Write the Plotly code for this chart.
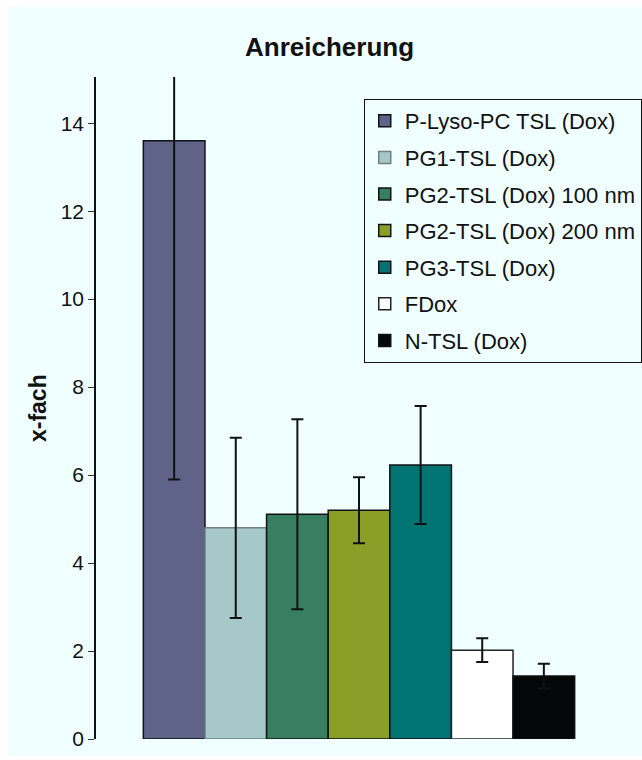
import plotly.graph_objects as go

# Enrichment factors (x-fach) with standard deviations
names = [
    "P-Lyso-PC TSL (Dox)",
    "PG1-TSL (Dox)",
    "PG2-TSL (Dox) 100 nm",
    "PG2-TSL (Dox) 200 nm",
    "PG3-TSL (Dox)",
    "FDox",
    "N-TSL (Dox)",
]
values = [13.6, 4.8, 5.11, 5.2, 6.23, 2.02, 1.43]
errors = [7.7, 2.05, 2.16, 0.75, 1.34, 0.27, 0.28]

fill_colors = ["#5f6388", "#a6c8c8", "#377f60", "#8b9f28", "#007472", "#ffffff", "#050607"]
line_colors = ["#111111", "#6d8181", "#111111", "#111111", "#111111", "#222222", "#111111"]

BG = "#f0ffff"
FONT = "Liberation Sans, Arial, sans-serif"

fig = go.Figure()
for i, (n, v, e) in enumerate(zip(names, values, errors)):
    fig.add_trace(go.Bar(
        x=["Anreicherung"], y=[v], name=n, legendgroup=n,
        marker=dict(color=fill_colors[i], line=dict(color=line_colors[i], width=1.5)),
        error_y=dict(type="data", array=[e], visible=True, color="#111111",
                     thickness=2, width=6),
    ))

fig.update_layout(
    width=642, height=760,
    margin=dict(l=96, r=19.5, t=77, b=21, autoexpand=False),
    paper_bgcolor="white", plot_bgcolor=BG,
    barmode="group", bargap=0.18, bargroupgap=0,
    font=dict(family=FONT, size=21, color="#111111"),
    showlegend=True,
    legend=dict(
        x=(364 - 96) / 526.5, y=(739 - 99) / 662, xanchor="left", yanchor="top",
        bgcolor=BG, bordercolor="#111111", borderwidth=1,
        font=dict(family=FONT, size=22, color="#111111"),
        traceorder="grouped", tracegroupgap=5,
    ),
    shapes=[dict(
        type="rect", xref="paper", yref="paper", layer="below",
        x0=-0.1671, x1=1.04, y0=-0.0257, y1=1.1057,
        fillcolor=BG, line=dict(width=0),
    )],
    annotations=[
        dict(text="<b>Anreicherung</b>", xref="paper", yref="paper",
             x=(330 - 96) / 526.5, y=(739 - 47) / 662, xanchor="center", yanchor="middle",
             showarrow=False, font=dict(family=FONT, size=26, color="#111111")),
        dict(text="<b>x-fach</b>", xref="paper", yref="paper",
             x=(38 - 96) / 526.5, y=(739 - 408) / 662, xanchor="center", yanchor="middle",
             textangle=-90, showarrow=False, font=dict(family=FONT, size=23, color="#111111")),
    ],
)

fig.update_xaxes(showticklabels=False, showline=False, ticks="", showgrid=False, zeroline=False)
fig.update_yaxes(
    range=[0, 15.05], dtick=2, tick0=0,
    showline=True, linecolor="#111111", linewidth=1.5,
    ticks="outside", ticklen=6, tickcolor="#333333", tickwidth=1,
    showgrid=False, zeroline=False,
    tickfont=dict(family=FONT, size=21, color="#111111"),
)

fig.write_html("out.html")
